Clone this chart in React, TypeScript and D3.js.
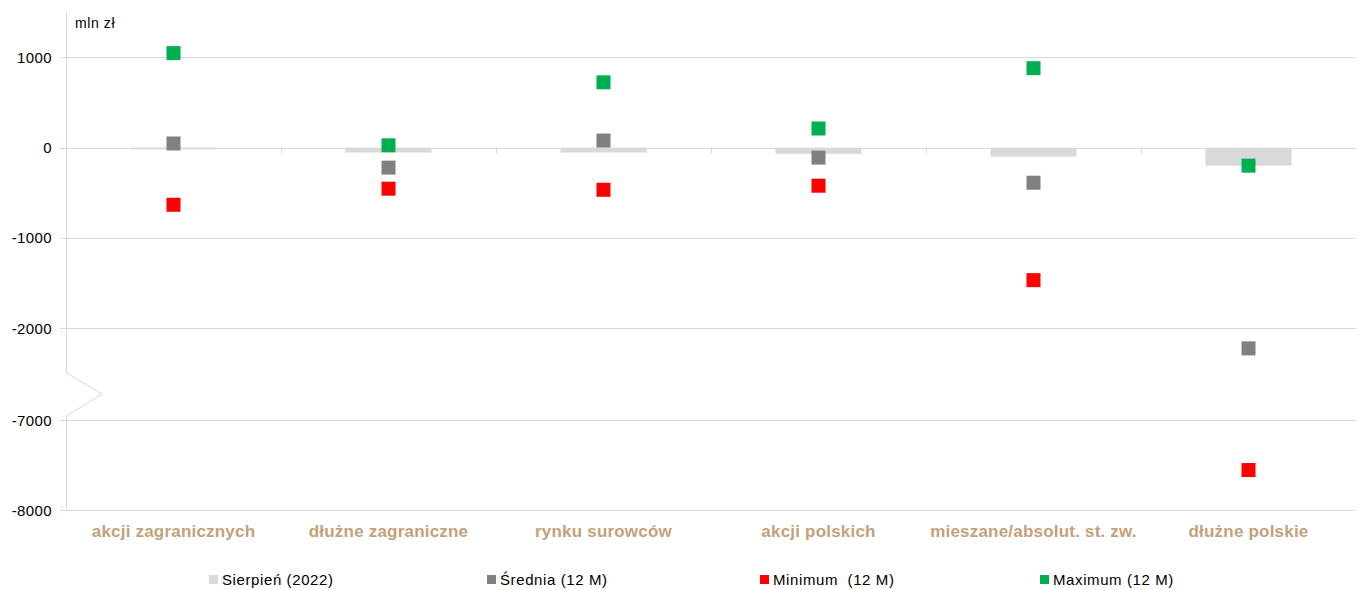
import React from "react";
import * as d3 from "d3";

const categories = [
  "akcji zagranicznych",
  "dłużne zagraniczne",
  "rynku surowców",
  "akcji polskich",
  "mieszane/absolut. st. zw.",
  "dłużne polskie",
];
const sierpien = [-20, -55, -55, -70, -100, -200];
const srednia = [45, -222, 78, -111, -389, -2222];
const minimum = [-633, -455, -467, -422, -1467, -7556];
const maximum = [1045, 25, 722, 211, 878, -200];
const yTicks = [1000, 0, -1000, -2000, -7000, -8000];
const legendLabels = ["Sierpień (2022)", "Średnia (12 M)", "Minimum  (12 M)", "Maximum (12 M)"];

const W = 1360;
const H = 590;
const left = 66;
const right = 1356;
const top = 12;
const bottom = 510;

const COL_BAR = "#d9d9d9";
const COL_AVG = "#808080";
const COL_MIN = "#ff0000";
const COL_MAX = "#00b050";
const GRID = "#d9d9d9";
const LABEL = "#c3a27b";

export default function App() {
  const x = d3.scaleBand<string>().domain(categories).range([left, right]).paddingInner(0).paddingOuter(0);
  const y = d3
    .scaleLinear()
    .domain([-8000, -6500, -2500, 1500])
    .range([bottom, 375, 373.5, top]);
  const bw = 86;
  const ms = 14;
  const font = "'Liberation Sans', Arial, sans-serif";
  const series = [
    { vals: srednia, col: COL_AVG },
    { vals: minimum, col: COL_MIN },
    { vals: maximum, col: COL_MAX },
  ];
  const legendX = [209, 487, 760, 1040];
  const legendCols = [COL_BAR, COL_AVG, COL_MIN, COL_MAX];
  const y0 = y(0);

  return (
    <svg width={W} height={H} style={{ position: "absolute", left: 0, top: 0, background: "#fff" }}>
      {yTicks.map((t) => (
        <line key={t} x1={60} x2={right} y1={Math.round(y(t)) + 0.5} y2={Math.round(y(t)) + 0.5} stroke={GRID} strokeWidth={1} />
      ))}
      {categories.slice(1).map((c) => (
        <line key={c} x1={Math.round(x(c)!) + 0.5} x2={Math.round(x(c)!) + 0.5} y1={y0} y2={y0 + 6} stroke={GRID} />
      ))}
      <path
        d={`M${left + 0.5},${top} L${left + 0.5},373 L102,394 L${left + 0.5},416 L${left + 0.5},${bottom}`}
        fill="none"
        stroke={GRID}
        strokeWidth={1}
      />
      {yTicks.map((t) => (
        <text key={t} x={52} y={y(t) + 5.5} textAnchor="end" fontFamily={font} fontSize={15} letterSpacing={0.4} fill="#000">
          {t}
        </text>
      ))}
      <text x={75} y={28} fontFamily={font} fontSize={14} letterSpacing={0.6} fill="#000">
        mln zł
      </text>
      {categories.map((c, i) => {
        const cx = x(c)! + x.bandwidth() / 2;
        const yv = y(sierpien[i]);
        return <rect key={c} x={cx - bw / 2} y={Math.min(y0, yv)} width={bw} height={Math.abs(yv - y0)} fill={COL_BAR} />;
      })}
      {series.map((s, si) =>
        categories.map((c, i) => {
          const cx = x(c)! + x.bandwidth() / 2;
          return <rect key={si + "-" + c} x={cx - ms / 2} y={y(s.vals[i]) - ms / 2} width={ms} height={ms} fill={s.col} />;
        })
      )}
      {categories.map((c) => (
        <text
          key={c}
          x={x(c)! + x.bandwidth() / 2}
          y={537}
          textAnchor="middle"
          fontFamily={font}
          fontWeight="bold"
          fontSize={17}
          letterSpacing={0.2}
          fill={LABEL}
        >
          {c}
        </text>
      ))}
      {legendLabels.map((l, i) => (
        <g key={l}>
          <rect x={legendX[i]} y={575} width={9} height={9} fill={legendCols[i]} />
          <text
            x={legendX[i] + 13}
            y={585}
            fontFamily={font}
            fontSize={15}
            letterSpacing={0.6}
            fill="#000"
            style={{ whiteSpace: "pre" }}
          >
            {l}
          </text>
        </g>
      ))}
    </svg>
  );
}
